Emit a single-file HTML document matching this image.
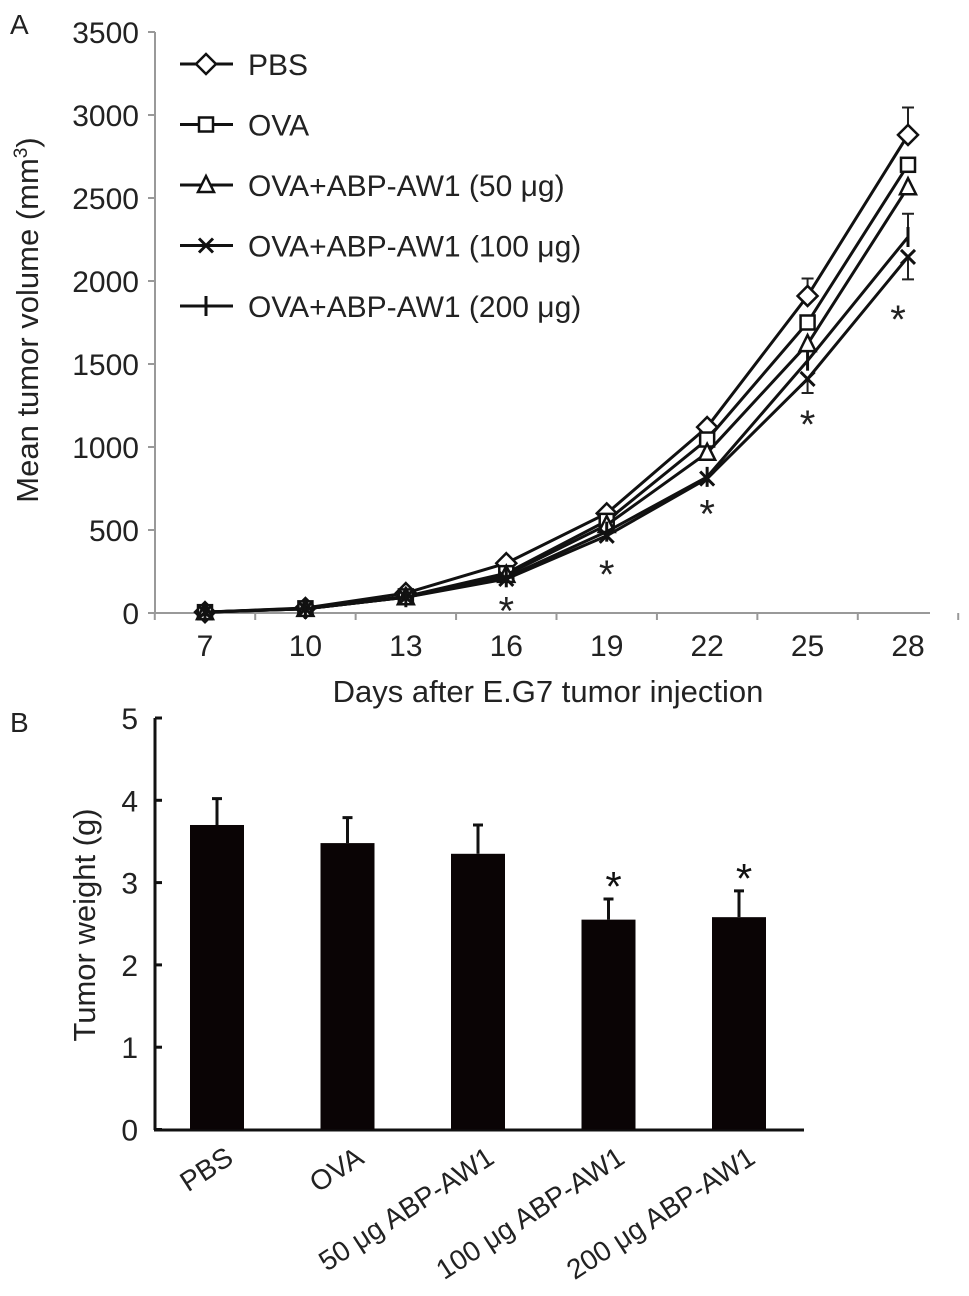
<!DOCTYPE html>
<html><head><meta charset="utf-8"><style>
html,body{margin:0;padding:0;background:#fff;}
svg{display:block;font-family:"Liberation Sans",Arial,sans-serif;}
</style></head><body>
<svg id="fig" width="969" height="1296" viewBox="0 0 969 1296"></svg>
<script>
// ---------- Panel A data ----------
const days = [7,10,13,16,19,22,25,28];
const pbs    = [5,30,120,300,600,1120,1910,2880];
const ova    = [5,28,100,240,555,1045,1750,2700];
const ab50   = [5,25,95,230,530,965,1620,2565];
const ab100  = [5,25,95,205,465,810,1410,2145];
const ab200  = [5,25,95,215,490,820,1520,2265];
const pbsErrUp = [0,0,0,0,0,0,105,165];
const ab100ErrDown = [0,0,0,0,0,0,85,135];
const ab200ErrUp = [0,0,0,0,0,0,0,140];
const yTicksA = [0,500,1000,1500,2000,2500,3000,3500];
const starDaysA = [16,19,22,25,28];
const starValsA = [75,295,660,1200,1830];
const seriesNames = ["PBS","OVA","OVA+ABP-AW1 (50 \u03bcg)","OVA+ABP-AW1 (100 \u03bcg)","OVA+ABP-AW1 (200 \u03bcg)"];
// ---------- Panel B data ----------
const groups = ["PBS","OVA","50 \u03bcg ABP-AW1","100 \u03bcg ABP-AW1","200 \u03bcg ABP-AW1"];
const weights = [3.70,3.48,3.35,2.55,2.58];
const weightErr = [0.32,0.31,0.35,0.25,0.32];
const starGroups = [3,4];
const yTicksB = [0,1,2,3,4,5];

const NS="http://www.w3.org/2000/svg";
const svg=document.getElementById('fig');
function mk(tag,attrs,parent){const e=document.createElementNS(NS,tag);for(const k in attrs)e.setAttribute(k,attrs[k]);(parent||svg).appendChild(e);return e;}

const xA = d => 205 + (d-7)*(703/21);
const yA = v => 613 - v*(581/3500);
const xB = i => 217 + i*130.5;
const yB = v => 1129.5 - v*82.3;

let t=mk('text',{x:10,y:34,'font-size':28,fill:'#222'});t.textContent='A';



let ax=mk('line',{x1:155,y1:32,x2:155,y2:613,stroke:'#999','stroke-width':2});


ax=mk('line',{x1:155,y1:613,x2:930,y2:613,stroke:'#999','stroke-width':2});


yTicksA.forEach(v=>{
  const tk=mk('line',{x1:148,y1:yA(v),x2:155,y2:yA(v),stroke:'#999','stroke-width':2});
  
  
  const lb=mk('text',{x:139,y:yA(v)+11,'text-anchor':'end','font-size':30,fill:'#222'});lb.textContent=v;
  
  
});
for(let i=0;i<=days.length;i++){
  const x=xA(days[0])-(703/21)*1.5+i*(703/21)*3;
  const tk=mk('line',{x1:x,y1:613,x2:x,y2:620,stroke:'#999','stroke-width':2});
  
  
}
days.forEach(d=>{
  const lb=mk('text',{x:xA(d),y:656,'text-anchor':'middle','font-size':30,fill:'#222'});lb.textContent=d;
  
  
});
t=mk('text',{x:548,y:702,'text-anchor':'middle','font-size':31,fill:'#222'});t.textContent='Days after E.G7 tumor injection';


t=mk('text',{x:0,y:0,'text-anchor':'middle','font-size':31,fill:'#222',transform:'translate(38,320) rotate(-90)'});
t.innerHTML='Mean tumor volume (mm<tspan dy="-11" font-size="19">3</tspan><tspan dy="11">)</tspan>';



function marker(kind,x,y,g){
  let e;
  if(kind===0){e=mk('polygon',{points:`${x},${y-10} ${x+10},${y} ${x},${y+10} ${x-10},${y}`,fill:'#fff',stroke:'#111','stroke-width':2.5},g);}
  else if(kind===1){e=mk('rect',{x:x-7,y:y-7,width:14,height:14,fill:'#fff',stroke:'#111','stroke-width':2.5},g);}
  else if(kind===2){e=mk('polygon',{points:`${x},${y-9} ${x+8},${y+7} ${x-8},${y+7}`,fill:'#fff',stroke:'#111','stroke-width':2.5},g);}
  else if(kind===3){e=mk('path',{d:`M${x-7},${y-7}L${x+7},${y+7}M${x+7},${y-7}L${x-7},${y+7}`,stroke:'#111','stroke-width':3},g);}
  else {e=mk('path',{d:`M${x},${y-10}L${x},${y+10}`,stroke:'#111','stroke-width':3},g);}
  
  
}
function errbar(x,v,e,dir,g){
  const y1=yA(v), y2=yA(v+dir*e);
  const l=mk('path',{d:`M${x},${y1}L${x},${y2}M${x-6},${y2}L${x+6},${y2}`,stroke:'#222','stroke-width':2},g);
  
  
}
const allSeries=[pbs,ova,ab50,ab100,ab200];
const keys=['pbs','ova','abp-50','abp-100','abp-200'];
allSeries.forEach((s,k)=>{
  const g=mk('g',{});
  
  
  const p=mk('polyline',{points:s.map((v,i)=>xA(days[i])+','+yA(v)).join(' '),fill:'none',stroke:'#111','stroke-width':3},g);
  
  
  if(k===0) days.forEach((d,i)=>{if(pbsErrUp[i])errbar(xA(d),s[i],pbsErrUp[i],1,g);});
  if(k===3) days.forEach((d,i)=>{if(ab100ErrDown[i])errbar(xA(d),s[i],ab100ErrDown[i],-1,g);});
  if(k===4) days.forEach((d,i)=>{if(ab200ErrUp[i])errbar(xA(d),s[i],ab200ErrUp[i],1,g);});
  s.forEach((v,i)=>marker(k,xA(days[i]),yA(v),g));
});
starDaysA.forEach((d,i)=>{
  const s=mk('text',{x:xA(d)-(d===28?10:0),y:yA(starValsA[i])+24,'text-anchor':'middle','font-size':40,fill:'#222'});s.textContent='*';
  
  
});
seriesNames.forEach((n,k)=>{
  const y=64+k*60.5;
  const g=mk('g',{});
  
  
  mk('line',{x1:180,y1:y,x2:233,y2:y,stroke:'#111','stroke-width':3},g);
  marker(k,206,y,g);
  const lb=mk('text',{x:248,y:y+11,'font-size':30,fill:'#222'},g);lb.textContent=n;
});

// ---------- Panel B ----------
t=mk('text',{x:10,y:732,'font-size':28,fill:'#222'});t.textContent='B';


ax=mk('line',{x1:155,y1:718,x2:155,y2:1130,stroke:'#111','stroke-width':3});


ax=mk('line',{x1:154,y1:1130,x2:804,y2:1130,stroke:'#111','stroke-width':3});


yTicksB.forEach(v=>{
  const tk=mk('line',{x1:155,y1:yB(v),x2:162,y2:yB(v),stroke:'#111','stroke-width':3});
  
  
  const lb=mk('text',{x:138,y:yB(v)+11,'text-anchor':'end','font-size':30,fill:'#222'});lb.textContent=v;
  
  
});
t=mk('text',{x:0,y:0,'text-anchor':'middle','font-size':31,fill:'#222',transform:'translate(95,925) rotate(-90)'});t.textContent='Tumor weight (g)';


groups.forEach((gname,i)=>{
  const x=xB(i);
  const e=mk('path',{d:`M${x},${yB(weights[i])}L${x},${yB(weights[i]+weightErr[i])}M${x-5},${yB(weights[i]+weightErr[i])}L${x+5},${yB(weights[i]+weightErr[i])}`,stroke:'#111','stroke-width':3});
  
  
  const r=mk('rect',{x:x-27,y:yB(weights[i]),width:54,height:yB(0)-yB(weights[i]),fill:'#0a0405'});
  
  
  const lb=mk('text',{x:0,y:0,'text-anchor':'end','font-size':28,fill:'#222',transform:`translate(${x+18},${1162}) rotate(-33)`});lb.textContent=gname;
  
  
});
starGroups.forEach(i=>{
  const s=mk('text',{x:xB(i)+5,y:yB(weights[i]+weightErr[i])+2,'text-anchor':'middle','font-size':42,fill:'#111'});s.textContent='*';
  
  
});
</script>
</body></html>
